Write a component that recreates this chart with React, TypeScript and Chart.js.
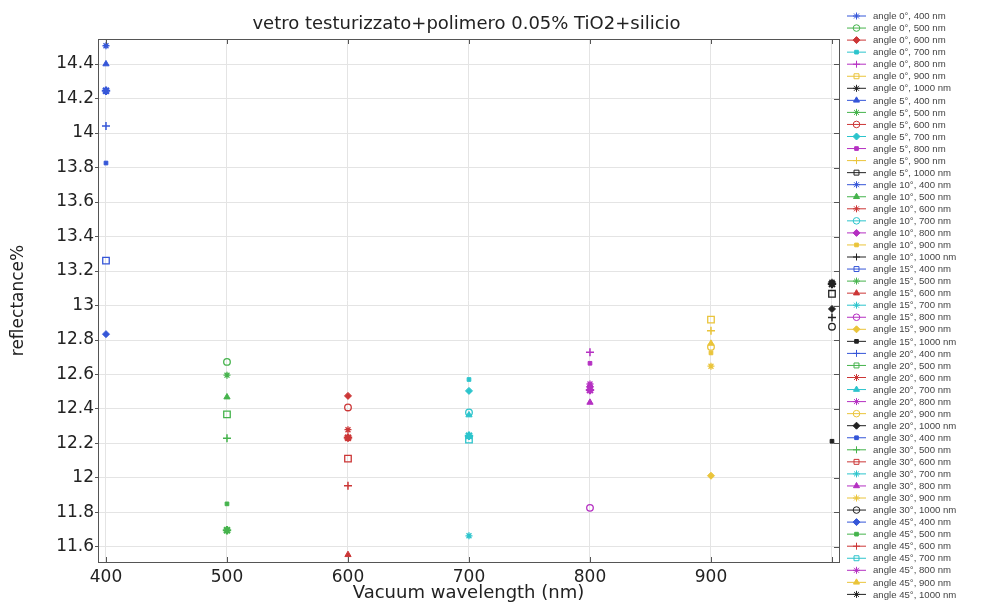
import React, { useEffect, useRef } from "react";
import { Chart, registerables } from "chart.js";
import { drawPoint } from "chart.js/helpers";

Chart.register(...registerables);

const chartTitle = "vetro testurizzato+polimero 0.05% TiO2+silicio";
const xTitle = "Vacuum wavelength (nm)";
const yTitle = "reflectance%";

const wavelengths = [400, 500, 600, 700, 800, 900, 1000];
const angles = [0, 5, 10, 15, 20, 30, 45];

// reflectance (%) for each angle, one value per wavelength
const reflAngle0 = [14.506, 12.673, 12.476, 12.571, 12.729, 12.918, 13.125];
const reflAngle5 = [14.4, 12.596, 12.409, 12.505, 12.665, 12.854, 13.068];
const reflAngle10 = [14.245, 12.469, 12.28, 12.38, 12.53, 12.725, 12.93];
const reflAngle15 = [13.26, 11.697, 11.555, 11.665, 11.827, 12.013, 12.213];
const reflAngle20 = [14.04, 12.369, 12.234, 12.365, 12.545, 12.76, 12.98];
const reflAngle30 = [13.826, 12.23, 12.112, 12.245, 12.438, 12.648, 12.877];
const reflAngle45 = [12.834, 11.85, 11.955, 12.222, 12.51, 12.78, 13.135];
const reflectanceByAngle = [
  reflAngle0,
  reflAngle5,
  reflAngle10,
  reflAngle15,
  reflAngle20,
  reflAngle30,
  reflAngle45,
];

const xTicks = [400, 500, 600, 700, 800, 900, 1000];
const xTickLabels = ["400", "500", "600", "700", "800", "900", ""];
const yTicks = [11.6, 11.8, 12, 12.2, 12.4, 12.6, 12.8, 13, 13.2, 13.4, 13.6, 13.8, 14, 14.2, 14.4];
const yTickLabels = ["11.6", "11.8", "12", "12.2", "12.4", "12.6", "12.8", "13", "13.2", "13.4", "13.6", "13.8", "14", "14.2", "14.4"];

const wavelengthColors = ["#3556d8", "#45b34c", "#cc3636", "#2cc4cc", "#b530c2", "#eac43a", "#222222"];
const markerCycle = ["asterisk", "circle", "diamond", "point", "plus", "square", "star", "triangle"];

type MarkerStyle = { pointStyle: string; radius: number; borderWidth: number; filled: boolean };

function markerStyle(name: string): MarkerStyle {
  switch (name) {
    case "asterisk":
      return { pointStyle: "star", radius: 3.5, borderWidth: 1.3, filled: false };
    case "circle":
      return { pointStyle: "circle", radius: 3.3, borderWidth: 1.3, filled: false };
    case "diamond":
      return { pointStyle: "rectRot", radius: 3.5, borderWidth: 1, filled: true };
    case "point":
      return { pointStyle: "rect", radius: 2.6, borderWidth: 1, filled: true };
    case "plus":
      return { pointStyle: "cross", radius: 4, borderWidth: 1.5, filled: false };
    case "square":
      return { pointStyle: "rect", radius: 4.6, borderWidth: 1.3, filled: false };
    case "star":
      return { pointStyle: "star", radius: 4.2, borderWidth: 2.2, filled: false };
    default:
      return { pointStyle: "triangle", radius: 3.6, borderWidth: 1, filled: true };
  }
}

const X_MIN = 393.4;
const X_MAX = 1005.8;
const Y_MIN = 11.513;
const Y_MAX = 14.545;

const frameAndLegendPlugin = {
  id: "frameAndLegend",
  afterDraw(chart: any) {
    const { ctx, chartArea } = chart;
    const { left, right, top, bottom } = chartArea;
    ctx.save();
    // frame
    ctx.strokeStyle = "#555555";
    ctx.lineWidth = 1;
    ctx.strokeRect(Math.round(left) + 0.5, Math.round(top) + 0.5, Math.round(right - left), Math.round(bottom - top));
    // inward ticks on top, bottom and right
    const xs = chart.scales.x;
    const ys = chart.scales.y;
    ctx.beginPath();
    xTicks.forEach((v) => {
      const px = Math.round(xs.getPixelForValue(v)) + 0.5;
      ctx.moveTo(px, top);
      ctx.lineTo(px, top + 5);
      ctx.moveTo(px, bottom);
      ctx.lineTo(px, bottom - 5);
    });
    yTicks.forEach((v) => {
      const py = Math.round(ys.getPixelForValue(v)) + 0.5;
      ctx.moveTo(right, py);
      ctx.lineTo(right - 5, py);
    });
    ctx.stroke();

    // chart title
    ctx.fillStyle = "#222222";
    ctx.font = "18px 'DejaVu Sans'";
    ctx.textAlign = "center";
    ctx.textBaseline = "middle";
    ctx.fillText(chartTitle, (left + right) / 2 - 2, 24);

    // legend
    const y0 = 16;
    const step = 12.05;
    ctx.font = "9.6px 'Liberation Sans'";
    ctx.textAlign = "left";
    chart.data.datasets.forEach((ds: any, i: number) => {
      const y = y0 + i * step;
      ctx.strokeStyle = ds.borderColor;
      ctx.lineWidth = 1;
      ctx.beginPath();
      ctx.moveTo(847, y);
      ctx.lineTo(866, y);
      ctx.stroke();
      ctx.fillStyle = ds.pointBackgroundColor;
      ctx.strokeStyle = ds.borderColor;
      drawPoint(
        ctx,
        {
          pointStyle: ds.pointStyle,
          radius: Math.min(ds.pointRadius, 3.5),
          rotation: 0,
          borderWidth: Math.min(ds.pointBorderWidth, 1.3),
        } as any,
        856.5,
        y
      );
      ctx.fillStyle = "#444444";
      ctx.fillText(ds.label, 873, y + 0.5);
    });
    ctx.restore();
  },
};

export default function App() {
  const canvasRef = useRef<HTMLCanvasElement | null>(null);

  useEffect(() => {
    document.body.style.margin = "0";
    const canvas = canvasRef.current;
    if (!canvas) return;

    const datasets: any[] = [];
    angles.forEach((angle, ai) => {
      wavelengths.forEach((wl, wi) => {
        const index = ai * wavelengths.length + wi;
        const m = markerStyle(markerCycle[index % markerCycle.length]);
        const color = wavelengthColors[wi];
        datasets.push({
          label: `angle ${angle}°, ${wl} nm`,
          data: [{ x: wl, y: reflectanceByAngle[ai][wi] }],
          showLine: false,
          borderColor: color,
          backgroundColor: m.filled ? color : "rgba(255,255,255,0)",
          pointBackgroundColor: m.filled ? color : "rgba(255,255,255,0)",
          pointBorderColor: color,
          pointStyle: m.pointStyle,
          pointRadius: m.radius,
          pointBorderWidth: m.borderWidth,
          pointHoverRadius: m.radius,
        });
      });
    });

    const chart = new Chart(canvas, {
      type: "scatter",
      data: { datasets },
      options: {
        animation: false,
        responsive: false,
        devicePixelRatio: 1,
        layout: { padding: { left: 0, right: 167, top: 39, bottom: 0 } },
        plugins: {
          legend: { display: false },
          title: { display: false },
          tooltip: { enabled: false },
        },
        scales: {
          x: {
            type: "linear",
            min: X_MIN,
            max: X_MAX,
            afterBuildTicks: (scale: any) => {
              scale.ticks = xTicks.map((v) => ({ value: v }));
            },
            afterFit: (scale: any) => {
              scale.height = 44;
            },
            grid: { color: "#e4e4e4", drawTicks: false, lineWidth: 1 },
            border: { display: false },
            ticks: {
              color: "#222222",
              font: { family: "'DejaVu Sans'", size: 17 },
              padding: 5,
              maxRotation: 0,
              autoSkip: false,
              callback: (v: any) => {
                const i = xTicks.indexOf(Number(v));
                return i >= 0 ? xTickLabels[i] : "";
              },
            },
            title: {
              display: true,
              text: xTitle,
              color: "#222222",
              font: { family: "'DejaVu Sans'", size: 18 },
              padding: { top: 0, bottom: 2 },
            },
          },
          y: {
            type: "linear",
            min: Y_MIN,
            max: Y_MAX,
            afterBuildTicks: (scale: any) => {
              scale.ticks = yTicks.map((v) => ({ value: v }));
            },
            afterFit: (scale: any) => {
              scale.width = 98;
            },
            grid: { color: "#e4e4e4", drawTicks: true, tickLength: 3, tickColor: "#555555", lineWidth: 1 },
            border: { display: false },
            ticks: {
              color: "#222222",
              font: { family: "'DejaVu Sans'", size: 17 },
              padding: 1,
              autoSkip: false,
              callback: (v: any) => {
                const i = yTicks.findIndex((t) => Math.abs(t - Number(v)) < 1e-6);
                return i >= 0 ? yTickLabels[i] : "";
              },
            },
            title: {
              display: true,
              text: yTitle,
              color: "#222222",
              font: { family: "'DejaVu Sans'", size: 17 },
              padding: { top: 8, bottom: 0 },
            },
          },
        },
      },
      plugins: [frameAndLegendPlugin],
    });

    return () => {
      chart.destroy();
    };
  }, []);

  return (
    <div style={{ width: 1006, height: 606, background: "#ffffff" }}>
      <canvas ref={canvasRef} width={1006} height={606} style={{ display: "block" }} />
    </div>
  );
}
